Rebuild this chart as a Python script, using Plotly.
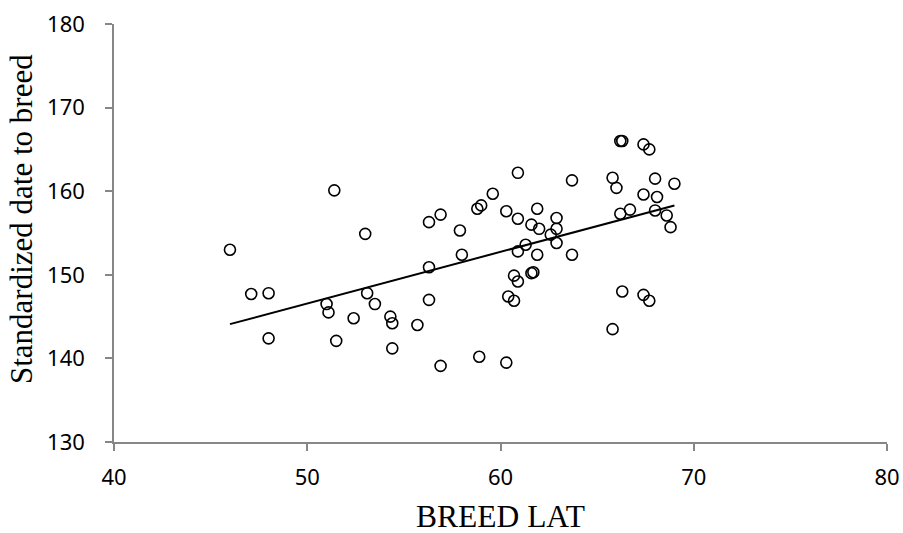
import plotly.graph_objects as go

lat = [46.0, 47.1, 48.0, 48.0, 51.4, 51.0, 51.1, 51.5, 53.0, 53.1, 53.5, 52.4,
       54.3, 54.4, 54.4, 55.7, 56.3, 56.9, 56.3, 56.3, 56.9, 57.9, 58.0, 58.8,
       59.0, 58.9, 59.6, 60.9, 60.3, 60.9, 61.9, 61.6, 62.0, 62.9, 62.9, 62.6,
       62.9, 61.3, 60.9, 61.9, 63.7, 63.7, 60.7, 60.9, 61.7, 61.6, 60.4, 60.7,
       60.3, 65.8, 66.0, 66.2, 66.3, 67.4, 67.7, 68.0, 69.0, 67.4, 68.1, 66.2,
       66.7, 68.0, 68.6, 68.8, 66.3, 67.4, 67.7, 65.8]
date = [153.0, 147.7, 147.8, 142.4, 160.1, 146.5, 145.5, 142.1, 154.9, 147.8, 146.5, 144.8,
        145.0, 144.2, 141.2, 144.0, 156.3, 157.2, 150.9, 147.0, 139.1, 155.3, 152.4, 157.9,
        158.3, 140.2, 159.7, 162.2, 157.6, 156.7, 157.9, 156.0, 155.5, 156.8, 155.5, 154.8,
        153.8, 153.6, 152.8, 152.4, 152.4, 161.3, 149.9, 149.2, 150.3, 150.2, 147.4, 146.9,
        139.5, 161.6, 160.4, 166.0, 166.0, 165.6, 165.0, 161.5, 160.9, 159.6, 159.3, 157.3,
        157.8, 157.7, 157.1, 155.7, 148.0, 147.6, 146.9, 143.5]

trend_x = [46.0, 69.0]
trend_y = [144.1, 158.3]

x_ticks = [40, 50, 60, 70, 80]
y_ticks = [130, 140, 150, 160, 170, 180]

x_title = "BREED LAT"
y_title = "Standardized date to breed"

fig = go.Figure()
fig.add_trace(go.Scatter(
    x=trend_x, y=trend_y, mode="lines",
    line=dict(color="black", width=2), showlegend=False, hoverinfo="skip"))
fig.add_trace(go.Scatter(
    x=lat, y=date, mode="markers",
    marker=dict(symbol="circle-open", size=11, color="black", line=dict(width=1.6)),
    showlegend=False))

axis_common = dict(
    showgrid=False, zeroline=False, showline=True, linecolor="#878787", linewidth=1.5,
    ticks="outside", ticklen=7, tickwidth=1.5, tickcolor="#878787", automargin=False,
    ticklabeloverflow="allow",
    tickfont=dict(family="Noto Sans, Open Sans, sans-serif", size=22, color="black"),
)

serif_x = dict(family="Liberation Serif, Times New Roman, serif", size=31.5, color="black")
serif_y = dict(family="Liberation Serif, Times New Roman, serif", size=31, color="black")

fig.update_layout(
    width=903, height=533,
    margin=dict(l=114, r=16, t=24, b=91),
    paper_bgcolor="white", plot_bgcolor="white",
    xaxis=dict(range=[40, 80], tickvals=x_ticks, ticklabelstandoff=8, **axis_common),
    yaxis=dict(range=[130, 180], tickvals=y_ticks, ticklabelstandoff=16, **axis_common),
    annotations=[
        dict(text=x_title, xref="paper", yref="paper", x=0.5, y=-0.179,
             xanchor="center", yanchor="middle", showarrow=False, font=serif_x),
        dict(text=y_title, xref="paper", yref="paper", x=-0.119, y=0.5335,
             xanchor="center", yanchor="middle", textangle=-90, showarrow=False, font=serif_y),
    ],
)

fig.write_html("out.html", config={"displayModeBar": False},
               post_script="document.body.style.margin='0';")
